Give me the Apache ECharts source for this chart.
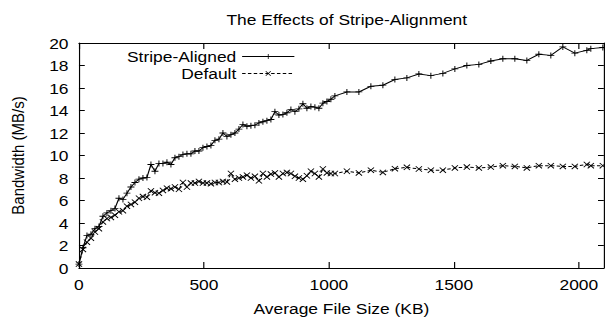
<!DOCTYPE html>
<html>
<head>
<meta charset="utf-8">
<script src="https://cdn.jsdelivr.net/npm/echarts@6/dist/echarts.min.js"></script>
<style>
html,body{margin:0;padding:0;background:#fff;overflow:hidden;width:605px;height:324px;}
#chart{width:521px;height:324px;transform:scaleX(1.1612);transform-origin:0 0;}
</style>
</head>
<body>
<div id="chart"></div>
<script>
const chartTitle = 'The Effects of Stripe-Alignment';
const xAxisName = 'Average File Size (KB)';
const yAxisName = 'Bandwidth (MB/s)';
const seriesNames = ['Stripe-Aligned', 'Default'];

const sizeKB = [0,16,32,48,64,80,96,112,128,144,160,176,192,208,224,240,256,272,288,304,320,336,352,368,384,400,416,432,448,464,480,496,512,528,544,560,576,592,608,624,640,656,672,688,704,720,736,752,768,784,800,816,832,848,864,880,896,912,928,944,960,976,992,1008,1024,1072,1120,1168,1216,1264,1312,1360,1408,1456,1504,1552,1600,1648,1696,1744,1792,1840,1888,1936,1984,2032,2048,2096];

const stripeAligned = [0.35,1.8,2.9,3.0,3.5,3.7,4.6,4.9,5.1,5.3,
6.2,6.1,6.65,7.2,7.6,7.9,8.0,8.05,9.2,8.6,
9.3,9.3,9.4,9.2,9.8,9.9,10.1,10.15,10.15,10.4,
10.4,10.7,10.8,10.9,11.35,11.45,12.0,11.7,11.85,12.0,
12.35,12.75,12.6,12.65,12.7,12.9,13.0,13.1,13.2,13.9,
13.6,13.65,13.8,14.1,13.9,14.15,14.6,14.2,14.35,14.3,
14.2,14.65,14.8,15.0,15.3,
15.65,15.65,16.15,16.25,16.75,16.9,17.25,17.1,17.3,17.7,
18.0,18.1,18.4,18.6,18.6,18.45,19.0,18.9,19.65,19.1,
19.35,19.5,19.6];

const defaultSeries = [0.35,1.65,2.3,2.65,3.2,3.5,4.1,4.4,4.5,4.7,
5.0,5.1,5.5,5.65,5.85,6.2,6.35,6.3,6.85,6.7,
6.65,6.9,7.1,7.05,7.2,7.0,7.6,7.2,7.55,7.55,
7.7,7.55,7.55,7.5,7.6,7.6,7.7,7.65,8.4,7.9,
8.0,8.1,8.25,8.0,8.15,7.75,8.4,8.1,8.35,8.45,
8.1,8.4,8.5,8.4,8.15,8.0,7.9,8.2,8.6,8.4,
8.1,8.8,8.45,8.4,8.4,
8.6,8.45,8.7,8.5,8.83,8.95,8.8,8.7,8.7,8.9,
8.97,8.9,8.97,9.1,9.03,8.9,9.1,9.1,9.03,9.03,
9.2,9.1,9.1];

const font = 'Liberation Sans';
const black = '#000';
const plusSym = 'path://M0,4.3H10V5.7H0Z M4.3,0H5.7V10H4.3Z';
const crossSym = 'path://M0,1L1,0L10,9L9,10Z M9,0L10,1L1,10L0,9Z';

const chart = echarts.init(document.getElementById('chart'), null, {renderer: 'svg'});

const xCommon = {type:'value', min:0, max:2100, interval:500,
  axisLine:{show:true, onZero:false, lineStyle:{color:black, width:1}},
  axisTick:{show:true, inside:true, length:6, lineStyle:{color:black, width:1}},
  splitLine:{show:false}};
const yCommon = {type:'value', min:0, max:20, interval:2,
  axisLine:{show:true, onZero:false, lineStyle:{color:black, width:1}},
  axisTick:{show:true, inside:true, length:5, lineStyle:{color:black, width:1}},
  splitLine:{show:false}};

const legendCommon = {orient:'vertical', align:'right', right:267, padding:0,
  itemWidth:45, itemHeight:6, itemGap:0,
  lineStyle:{width:1},
  textStyle:{fontFamily:font, fontSize:15, color:black}};

const option = {
  animation:false,
  backgroundColor:'#fff',
  title:{text:chartTitle, left:190, top:7,
    textStyle:{fontFamily:font, fontSize:15, fontWeight:'normal', color:black}},
  grid:{left:68, right:1, top:43, bottom:56, containLabel:false},
  legend:[
    Object.assign({}, legendCommon, {data:[seriesNames[0]], top:49}),
    Object.assign({}, legendCommon, {data:[seriesNames[1]], top:66})
  ],
  xAxis:[
    Object.assign({}, xCommon, {position:'bottom',
      axisLabel:{show:true, color:black, fontFamily:font, fontSize:15, margin:9, showMaxLabel:false,
        formatter:(v)=>String(v)},
      name:xAxisName, nameLocation:'middle', nameGap:33,
      nameTextStyle:{fontFamily:font, fontSize:15, color:black}}),
    Object.assign({}, xCommon, {position:'top', axisLabel:{show:false}})
  ],
  yAxis:[
    Object.assign({}, yCommon, {position:'left',
      axisLabel:{show:true, color:black, fontFamily:font, fontSize:15, margin:9,
        formatter:(v)=>String(v)},
      name:yAxisName, nameLocation:'middle', nameGap:45, nameRotate:90,
      nameTextStyle:{fontFamily:font, fontSize:15, color:black}}),
    Object.assign({}, yCommon, {position:'right', axisLabel:{show:false}})
  ],
  series:[
    {name:seriesNames[0], type:'line', xAxisIndex:0, yAxisIndex:0,
      data:sizeKB.map((x,i)=>[x, stripeAligned[i]]),
      symbol:plusSym, symbolSize:6, showSymbol:true,
      itemStyle:{color:black},
      lineStyle:{color:black, width:1, type:'solid'}},
    {name:seriesNames[1], type:'line', xAxisIndex:0, yAxisIndex:0,
      data:sizeKB.map((x,i)=>[x, defaultSeries[i]]),
      symbol:crossSym, symbolSize:6, showSymbol:true,
      itemStyle:{color:black},
      lineStyle:{color:black, width:1, type:[3,2]}}
  ]
};
chart.setOption(option);
</script>
</body>
</html>
